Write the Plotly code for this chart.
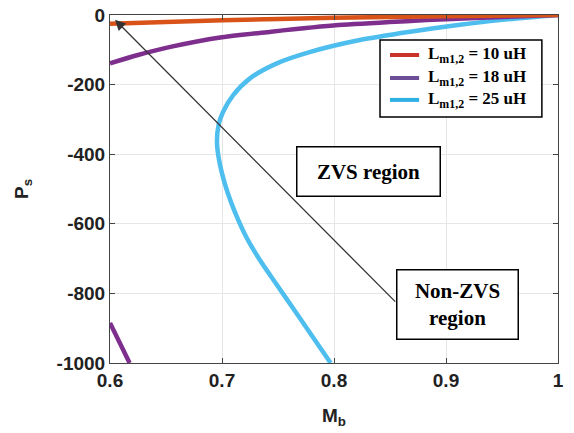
import plotly.graph_objects as go

# ---- data ----
mb_10 = [0.6, 0.7, 0.8, 0.9, 1.0]
ps_10 = [-25, -15, -8, -3.5, 0]

mb_18 = [0.6, 0.625, 0.655, 0.7, 0.744, 0.804, 0.868, 0.9, 0.95, 1.0]
ps_18 = [-139, -115, -91, -64, -48, -29, -17, -12, -6, 0]

mb_18b = [0.6, 0.6175]
ps_18b = [-885, -1000]

mb_25 = [1.0, 0.95, 0.9125, 0.868, 0.823, 0.779, 0.749, 0.725, 0.710, 0.701,
         0.697, 0.6955, 0.697, 0.700, 0.705, 0.712, 0.722, 0.735, 0.750, 0.765, 0.780, 0.797]
ps_25 = [0, -14, -28, -48, -72, -106, -139, -182, -230, -278,
         -315, -365, -410, -455, -510, -570, -640, -710, -780, -850, -920, -1000]

x_ticks = [0.6, 0.7, 0.8, 0.9, 1.0]
x_ticklabels = ["0.6", "0.7", "0.8", "0.9", "1"]
y_ticks = [0, -200, -400, -600, -800, -1000]
y_ticklabels = ["0", "-200", "-400", "-600", "-800", "-1000"]

legend_labels = ["L<sub>m1,2</sub> = 10 uH", "L<sub>m1,2</sub> = 18 uH", "L<sub>m1,2</sub> = 25 uH"]
legend_colors = ["#C8332A", "#6B4E96", "#2FB0E4"]

c_orange = "#D95319"
c_purple = "#7E2F8E"
c_cyan = "#4DBEEE"

fig = go.Figure()
fig.add_trace(go.Scatter(x=mb_25, y=ps_25, mode="lines", line=dict(color=c_cyan, width=4.5, shape="spline", smoothing=0.8), showlegend=False))
fig.add_trace(go.Scatter(x=mb_18, y=ps_18, mode="lines", line=dict(color=c_purple, width=4.5, shape="spline", smoothing=0.8), showlegend=False))
fig.add_trace(go.Scatter(x=mb_18b, y=ps_18b, mode="lines", line=dict(color=c_purple, width=4.5), showlegend=False))
fig.add_trace(go.Scatter(x=mb_10, y=ps_10, mode="lines", line=dict(color=c_orange, width=4.5, shape="spline", smoothing=0.8), showlegend=False))

axis_font = dict(family="Liberation Sans, Arial, sans-serif", size=19, color="#222", weight="bold")

fig.update_xaxes(range=[0.6, 1.0], tickvals=x_ticks, ticktext=x_ticklabels,
                 showgrid=True, gridcolor="#e6e6e6", gridwidth=1,
                 showline=True, linecolor="#444", linewidth=1, mirror="ticks",
                 ticks="inside", ticklen=5, tickcolor="#444", automargin=False,
                 ticklabeloverflow="allow",
                 tickfont=axis_font, zeroline=False,
                 title=dict(text="M<sub>b</sub>", font=axis_font, standoff=18))
fig.update_yaxes(range=[-1000, 0], tickvals=y_ticks, ticktext=y_ticklabels,
                 showgrid=True, gridcolor="#e6e6e6", gridwidth=1,
                 showline=True, linecolor="#444", linewidth=1, mirror="ticks",
                 ticks="inside", ticklen=5, tickcolor="#444", automargin=False,
                 ticklabeloverflow="allow",
                 tickfont=axis_font, zeroline=False,
                 title=dict(text="P<sub>s</sub>", font=axis_font, standoff=22))

serif = dict(family="Liberation Serif, Times New Roman, serif", color="black", weight="bold")

# arrow
fig.add_annotation(x=0.6045, y=-14, ax=0.856, ay=-828, xref="x", yref="y", axref="x", ayref="y",
                   text="", showarrow=True, arrowhead=2, arrowsize=1.6, arrowwidth=1.3, arrowcolor="#333")

# region boxes
fig.add_annotation(x=0.8308, y=-451, xref="x", yref="y", text="ZVS region", showarrow=False,
                   font=dict(size=21, **serif), bgcolor="white", bordercolor="black", borderwidth=1.5,
                   borderpad=9, width=124, height=30)
fig.add_annotation(x=0.9107, y=-833, xref="x", yref="y", text="Non-ZVS<br>region", showarrow=False,
                   font=dict(size=21, **serif), bgcolor="white", bordercolor="black", borderwidth=1.5,
                   borderpad=6, width=108, height=56)

# manual legend
fig.add_shape(type="rect", xref="paper", yref="paper", x0=0.6027, x1=0.964, y0=0.707, y1=0.928,
              line=dict(color="black", width=1.5), fillcolor="white", layer="above")
rows_y = [0.885, 0.819, 0.756]
for lbl, col, yy in zip(legend_labels, legend_colors, rows_y):
    fig.add_shape(type="line", xref="paper", yref="paper", x0=0.625, x1=0.690, y0=yy, y1=yy,
                  line=dict(color=col, width=4), layer="above")
    fig.add_annotation(x=0.705, y=yy, xref="paper", yref="paper", text=lbl, showarrow=False,
                       xanchor="left", yanchor="middle", font=dict(size=17, **serif))

# page body adds an 8px offset, so margins are shifted to keep the plot area in place
fig.update_layout(width=574, height=433, margin=dict(l=102, r=24, t=7, b=78),
                  paper_bgcolor="white", plot_bgcolor="white")

fig.write_html("out.html")
